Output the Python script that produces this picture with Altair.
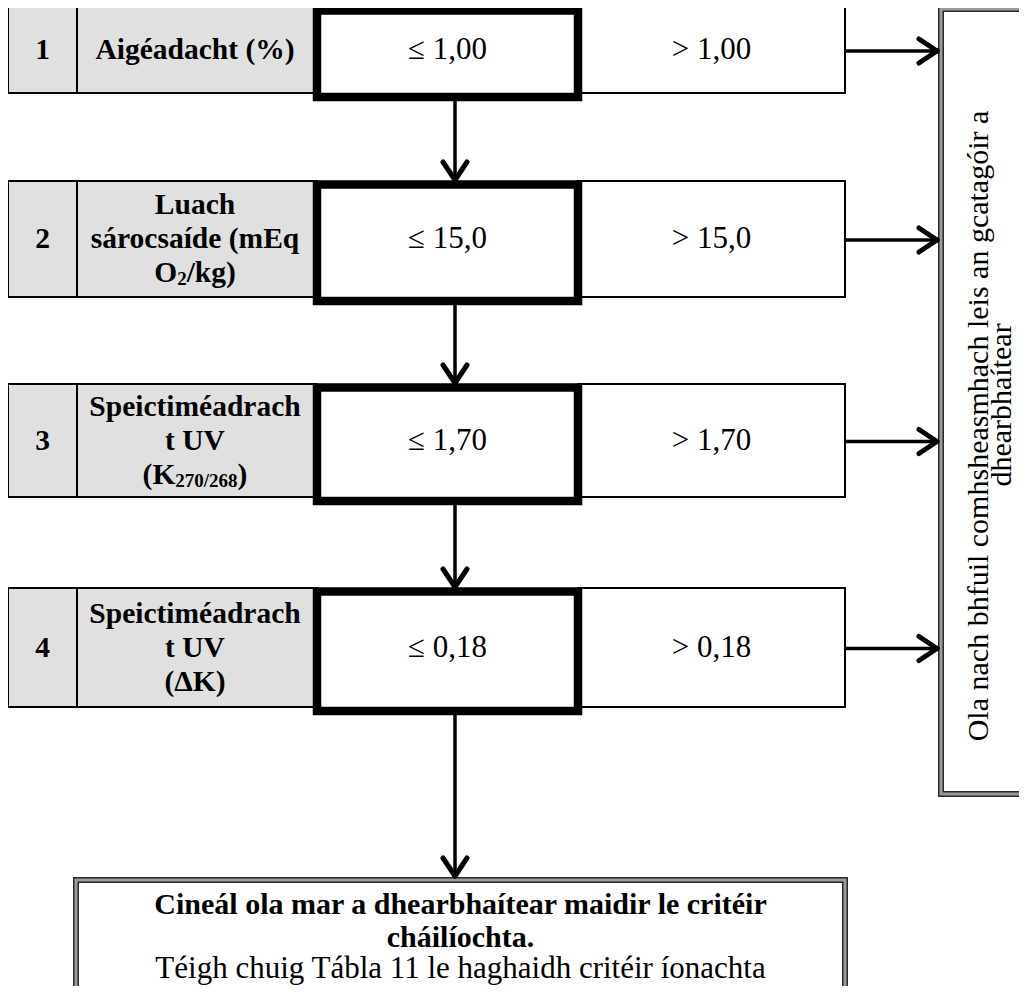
import altair as alt
import pandas as pd

# ---------------- content ----------------
step_numbers = ["1", "2", "3", "4"]
# each line: (main text, subscript, text after subscript)
criteria_lines = [
    [("Aigéadacht (%)", "", "")],
    [("Luach", "", ""), ("sárocsaíde (mEq", "", ""), ("O", "2", "/kg)")],
    [("Speictiméadrach", "", ""), ("t UV", "", ""), ("(K", "270/268", ")")],
    [("Speictiméadrach", "", ""), ("t UV", "", ""), ("(ΔK)", "", "")],
]
limit_pass = ["≤ 1,00", "≤ 15,0", "≤ 1,70", "≤ 0,18"]
limit_fail = ["> 1,00", "> 15,0", "> 1,70", "> 0,18"]
reject_lines = ["Ola nach bhfuil comhsheasmhach leis an gcatagóir a", "dhearbhaítear"]
result_title = ["Cineál ola mar a dhearbhaítear maidir le critéir", "cháilíochta."]
result_note = "Téigh chuig Tábla 11 le haghaidh critéir íonachta"

# ---------------- layout (pixels) ----------------
W, H = 1011, 978
FONT = "Liberation Serif"
FS_B = 29.5
FS_R = 31
SUB_FS = 19
LINE = 34
col_num = (8, 77)
col_lab = (77, 317)
col_pass = (317, 578)
col_fail = (578, 845)
row_top = [7, 181, 384, 588]
row_bot = [93, 297, 497, 707]
arrow_x = 455
reject_box = (938, 6, 1040, 797)
result_box = (73, 877, 848, 1010)

# Times bold advance widths (per 1000 em) for subscript composition
TB = {"O": 778, "2": 500, "/": 278, "k": 556, "g": 500, ")": 333, "(": 333,
      "K": 778, "0": 500, "6": 500, "7": 500, "8": 500}


def tw(s, size):
    return sum(TB.get(c, 500) for c in s) * size / 1000.0


xs = alt.Scale(domain=[8, 8 + W], nice=False, zero=False)
ys = alt.Scale(domain=[8, 8 + H], nice=False, zero=False, reverse=True)
X = alt.X("x:Q", scale=xs, axis=None)
Y = alt.Y("y:Q", scale=ys, axis=None)


def rects(rows, **kw):
    return alt.Chart(pd.DataFrame(rows)).mark_rect(**kw).encode(
        x=X, x2="x2:Q", y=Y, y2="y2:Q")


def rules(rows, **kw):
    return alt.Chart(pd.DataFrame(rows)).mark_rule(**kw).encode(
        x=X, x2="x2:Q", y=Y, y2="y2:Q")


def texts(rows, **kw):
    base = dict(font=FONT, fontSize=FS_B, color="black", baseline="middle", align="center")
    base.update(kw)
    return alt.Chart(pd.DataFrame(rows)).mark_text(**base).encode(
        x=X, y=Y, text="t:N")


def double_box(x0, y0, x1, y1):
    band = [{"x": x0 + 3, "x2": x1 - 3, "y": y0 + 3, "y2": y1 - 3}]
    outer = [{"x": x0 + 0.75, "x2": x1 - 0.75, "y": y0 + 0.75, "y2": y1 - 0.75}]
    inner = [{"x": x0 + 5.25, "x2": x1 - 5.25, "y": y0 + 5.25, "y2": y1 - 5.25}]
    return [
        rects(band, fill="white", stroke="#9a9a9a", strokeWidth=6),
        rects(outer, filled=False, stroke="#2a2a2a", strokeWidth=1.5),
        rects(inner, filled=False, stroke="#2a2a2a", strokeWidth=1.5),
    ]


gray_cells, fail_cells, pass_cells = [], [], []
for t, b in zip(row_top, row_bot):
    gray_cells.append({"x": col_num[0], "x2": col_num[1], "y": t, "y2": b})
    gray_cells.append({"x": col_lab[0], "x2": col_lab[1], "y": t, "y2": b})
    fail_cells.append({"x": col_fail[0], "x2": col_fail[1], "y": t, "y2": b})
    pass_cells.append({"x": col_pass[0], "x2": col_pass[1], "y": t + 3.5, "y2": b + 4})

# arrows
shafts, heads = [], []
AL, AW = 19, 12
# vertical
starts = [b + 8 for b in row_bot]
ends = row_top[1:] + [result_box[1]]
for s, e in zip(starts, ends):
    shafts.append({"x": arrow_x, "x2": arrow_x, "y": s, "y2": e - 2})
    heads.append({"x": arrow_x - AW, "x2": arrow_x, "y": e - AL, "y2": e - 1})
    heads.append({"x": arrow_x + AW, "x2": arrow_x, "y": e - AL, "y2": e - 1})
# horizontal
for t, b in zip(row_top, row_bot):
    yc = (t + b) / 2 + 1
    tip = reject_box[0]
    shafts.append({"x": col_fail[1], "x2": tip - 2, "y": yc, "y2": yc})
    heads.append({"x": tip - AL, "x2": tip - 1, "y": yc - AW, "y2": yc})
    heads.append({"x": tip - AL, "x2": tip - 1, "y": yc + AW, "y2": yc})

# texts
num_txt, lab_txt, sub_txt_l, sub_txt_r, sub_small, val_txt = [], [], [], [], [], []
lab_cx = (77 + 313) / 2
for i, (t, b) in enumerate(zip(row_top, row_bot)):
    yc = (t + b) / 2
    num_txt.append({"x": sum(col_num) / 2, "y": yc, "t": step_numbers[i]})
    val_txt.append({"x": (317 + 578) / 2, "y": yc, "t": limit_pass[i]})
    val_txt.append({"x": sum(col_fail) / 2, "y": yc, "t": limit_fail[i]})
    lines = criteria_lines[i]
    n = len(lines)
    for j, (main, sub, after) in enumerate(lines):
        ly = yc + (j - (n - 1) / 2) * LINE
        if not sub:
            lab_txt.append({"x": lab_cx, "y": ly, "t": main})
        else:
            total = tw(main, FS_B) + tw(sub, SUB_FS) + tw(after, FS_B)
            x0 = lab_cx - total / 2
            xm = x0 + tw(main, FS_B)
            xs_end = xm + tw(sub, SUB_FS)
            sub_txt_r.append({"x": xm, "y": ly, "t": main})
            sub_small.append({"x": xm, "y": ly + 6, "t": sub})
            sub_txt_l.append({"x": xs_end, "y": ly, "t": after})

res_cx = (result_box[0] + result_box[2]) / 2
title_txt = [{"x": res_cx, "y": 905 + k * 33, "t": s} for k, s in enumerate(result_title)]
note_txt = [{"x": res_cx, "y": 969, "t": result_note}]
reject_txt = [
    {"x": 979, "y": 426, "t": reject_lines[0]},
    {"x": 1002, "y": 405, "t": reject_lines[1]},
]

layers = []
layers += double_box(*reject_box)
layers += double_box(*result_box)
layers += [
    rects(gray_cells, fill="#e0e0e0", stroke="black", strokeWidth=2),
    rects(fail_cells, fill="white", stroke="black", strokeWidth=2),
    rects(pass_cells, fill="white", stroke="black", strokeWidth=8.5),
    rules(shafts, stroke="black", strokeWidth=3.5),
    rules(heads, stroke="black", strokeWidth=5, strokeCap="round"),
    texts(num_txt, fontWeight="bold"),
    texts(lab_txt, fontWeight="bold"),
    texts(sub_txt_r, fontWeight="bold", align="right"),
    texts(sub_small, fontWeight="bold", align="left", fontSize=SUB_FS),
    texts(sub_txt_l, fontWeight="bold", align="left"),
    texts(val_txt, fontSize=FS_R),
    texts(title_txt, fontWeight="bold", fontSize=30),
    texts(note_txt, fontSize=FS_R),
    texts(reject_txt, angle=270, fontSize=30),
]

chart = alt.layer(*layers).properties(
    width=W, height=H, padding=0, autosize=alt.AutoSizeParams(type="none"),
    background="white",
).configure_view(stroke=None)

chart.save("out.html", embed_options={"renderer": "svg", "actions": False})
